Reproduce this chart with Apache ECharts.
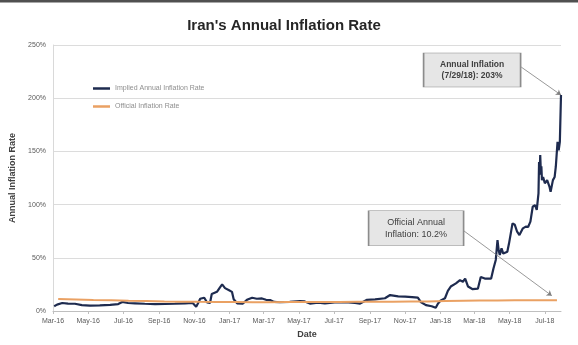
<!DOCTYPE html>
<html>
<head>
<meta charset="utf-8">
<title>Iran's Annual Inflation Rate</title>
<script src="https://cdn.jsdelivr.net/npm/echarts@6/dist/echarts.min.js"></script>
<style>
  html, body { margin: 0; padding: 0; background: #ffffff; }
  #chart { width: 578px; height: 345px; }
</style>
</head>
<body>
<div id="chart"></div>
<script>
// Implied annual inflation rate (market-based estimate), %
const impliedDates = [
  '2016-03-03','2016-03-08','2016-03-17','2016-03-27','2016-04-08','2016-04-20','2016-05-04','2016-05-21',
  '2016-06-08','2016-06-22','2016-06-29','2016-07-09','2016-07-21','2016-08-07','2016-08-25','2016-09-11',
  '2016-09-28','2016-10-16','2016-10-29','2016-11-04','2016-11-07','2016-11-11','2016-11-18','2016-11-23',
  '2016-11-28','2016-12-01','2016-12-10','2016-12-15','2016-12-19','2016-12-24','2016-12-31','2017-01-05',
  '2017-01-08','2017-01-14','2017-01-24','2017-01-31','2017-02-09','2017-02-17','2017-02-26','2017-03-05',
  '2017-03-12','2017-03-19','2017-03-29','2017-04-15','2017-05-03','2017-05-11','2017-05-20','2017-06-03',
  '2017-06-15','2017-07-02','2017-07-20','2017-08-06','2017-08-15','2017-08-27','2017-09-10','2017-09-27',
  '2017-10-06','2017-10-20','2017-11-01','2017-11-13','2017-11-23','2017-11-28','2017-12-07','2017-12-17',
  '2017-12-24','2017-12-28','2018-01-02','2018-01-09','2018-01-14','2018-01-19','2018-01-28','2018-02-04',
  '2018-02-09','2018-02-13','2018-02-18','2018-02-26','2018-03-07','2018-03-12','2018-03-19','2018-03-30',
  '2018-04-03','2018-04-07','2018-04-10','2018-04-12','2018-04-14','2018-04-17','2018-04-20','2018-04-27',
  '2018-04-30','2018-05-03','2018-05-06','2018-05-10','2018-05-14','2018-05-18','2018-05-24','2018-05-29',
  '2018-06-02','2018-06-06','2018-06-10','2018-06-14','2018-06-17','2018-06-20','2018-06-21','2018-06-22',
  '2018-06-23','2018-06-24','2018-06-25','2018-06-26','2018-06-28','2018-07-01','2018-07-05','2018-07-09',
  '2018-07-11','2018-07-15','2018-07-18','2018-07-20','2018-07-23','2018-07-25','2018-07-27','2018-07-29'
];
const impliedValues = [
  4.5, 6, 7.5, 7, 6.8, 5.5, 5, 5.3,
  5.8, 6.5, 8.5, 7.5, 7.2, 6.8, 6.5, 6.6,
  6.8, 7.2, 7.5, 4, 7, 11.5, 12.5, 8,
  7.5, 16, 18, 22, 25, 21.5, 19.5, 18,
  11, 7.2, 7, 10.5, 12.5, 11.5, 11.8, 10.5,
  10.3, 8.5, 8.2, 8.5, 9.3, 9, 7, 7.8,
  7.2, 8, 8.3, 7.5, 7, 10.5, 11, 12,
  15, 13.8, 13.5, 13, 12.5, 8.5, 5.5, 4.5,
  3, 7, 10, 12, 19, 23, 26, 29,
  27.5, 30.5, 23, 20.5, 21, 32, 30.5, 30.5,
  40, 48, 66.7, 57, 52.6, 59, 54, 55.7,
  63.6, 73, 82.3, 81, 74.5, 71.4, 77.7, 79.3,
  79, 84, 98, 99.6, 95, 110.6, 140, 128,
  146.6, 132, 136, 123, 126, 120, 123, 117,
  112, 123, 126, 135.6, 159, 151, 159, 203
];

// Official (statistical centre) inflation rate, %
const officialDates = [
  '2016-03-10','2016-04-10','2016-05-10','2016-06-10','2016-07-10','2016-08-10','2016-09-10','2016-10-10',
  '2016-11-10','2016-12-10','2017-01-10','2017-02-10','2017-03-10','2017-04-10','2017-05-10','2017-06-10',
  '2017-07-10','2017-08-10','2017-09-10','2017-10-10','2017-11-10','2017-12-10','2018-01-10','2018-02-10',
  '2018-03-10','2018-04-10','2018-05-10','2018-06-10','2018-07-22'
];
const officialValues = [
  11.3, 10.9, 10.4, 10.0, 9.6, 9.3, 9.0, 8.8,
  8.6, 8.5, 8.4, 8.3, 8.3, 8.4, 8.5, 8.5,
  8.5, 8.6, 8.7, 8.8, 8.9, 9.0, 9.3, 9.6,
  9.8, 9.9, 10.0, 10.1, 10.2
];

// Axis labels
const xTickLabels = ['Mar-16','May-16','Jul-16','Sep-16','Nov-16','Jan-17','Mar-17','May-17',
  'Jul-17','Sep-17','Nov-17','Jan-18','Mar-18','May-18','Jul-18'];
const yTicks = [0, 50, 100, 150, 200, 250];

const MONTHS = ['Jan','Feb','Mar','Apr','May','Jun','Jul','Aug','Sep','Oct','Nov','Dec'];
function ts(s) {
  const p = s.split('-');
  return new Date(Number(p[0]), Number(p[1]) - 1, Number(p[2])).getTime();
}
const tickTimes = xTickLabels.map(function (s) {
  const parts = s.split('-');
  return new Date(2000 + Number(parts[1]), MONTHS.indexOf(parts[0]), 1).getTime();
});
function fmtMonth(v) {
  const d = new Date(v);
  return MONTHS[d.getMonth()] + '-' + String(d.getFullYear()).slice(2);
}

const implied = impliedDates.map(function (d, i) { return [ts(d), impliedValues[i]]; });
const official = officialDates.map(function (d, i) { return [ts(d), officialValues[i]]; });

const lastImpliedDate = impliedDates[impliedDates.length - 1];
const lastImplied = impliedValues[impliedValues.length - 1];
const lastOfficial = officialValues[officialValues.length - 1];
const shortDate = (function (s) {
  const p = s.split('-');
  return Number(p[1]) + '/' + Number(p[2]) + '/' + p[0].slice(2);
})(lastImpliedDate);

const FONT = '"Liberation Sans", Arial, sans-serif';
const NAVY = '#1e2b4f';
const ORANGE = '#eaa163';

const chart = echarts.init(document.getElementById('chart'), null, { renderer: 'canvas' });

chart.setOption({
  animation: false,
  backgroundColor: '#ffffff',
  textStyle: { fontFamily: FONT },
  graphic: [{
    type: 'rect',
    shape: { x: 0, y: 0, width: 578, height: 2.5 },
    style: { fill: '#505050' },
    silent: true
  }],
  title: {
    text: "Iran's Annual Inflation Rate",
    left: 284,
    top: 18,
    padding: 0,
    textAlign: 'center',
    textStyle: { fontFamily: FONT, fontSize: 15, fontWeight: 'bold', color: '#262626' }
  },
  legend: {
    orient: 'vertical',
    left: 93,
    top: 85,
    padding: 0,
    itemWidth: 17,
    itemHeight: 2.5,
    itemGap: 11,
    icon: 'rect',
    data: ['Implied Annual Inflation Rate', 'Official Inflation Rate'],
    textStyle: { fontFamily: FONT, fontSize: 7, color: '#8f8f8f' }
  },
  grid: {
    left: 53,
    right: 17,
    top: 45,
    bottom: 34,
    containLabel: false,
    outerBoundsMode: 'none'
  },
  xAxis: {
    type: 'value',
    min: ts('2016-03-01'),
    max: ts('2018-07-29'),
    name: 'Date',
    nameLocation: 'middle',
    nameGap: 18,
    nameTextStyle: { fontFamily: FONT, fontSize: 9, fontWeight: 'bold', color: '#404040' },
    axisLine: { show: true, lineStyle: { color: '#bfbfbf', width: 1 } },
    axisTick: { show: true, length: 3, lineStyle: { color: '#bfbfbf' }, customValues: tickTimes },
    axisLabel: {
      customValues: tickTimes,
      formatter: fmtMonth,
      fontFamily: FONT,
      fontSize: 7,
      color: '#595959',
      margin: 7
    },
    splitLine: { show: false }
  },
  yAxis: {
    type: 'value',
    min: 0,
    max: 250,
    interval: 50,
    name: 'Annual Inflation Rate',
    nameLocation: 'middle',
    nameRotate: 90,
    nameGap: 36,
    nameTextStyle: { fontFamily: FONT, fontSize: 9, fontWeight: 'bold', color: '#404040' },
    axisLine: { show: true, lineStyle: { color: '#d9d9d9', width: 1 } },
    axisTick: { show: false },
    axisLabel: {
      formatter: function (v) { return yTicks.indexOf(v) >= 0 ? v + '%' : ''; },
      fontFamily: FONT,
      fontSize: 7,
      color: '#595959',
      margin: 7
    },
    splitLine: { show: true, lineStyle: { color: '#dcdcdc', width: 1 } }
  },
  series: [
    {
      name: 'Implied Annual Inflation Rate',
      type: 'line',
      data: implied,
      showSymbol: false,
      symbol: 'none',
      color: NAVY,
      lineStyle: { color: NAVY, width: 2.2 },
      z: 2,
      markLine: {
        silent: true,
        symbol: ['none', 'arrow'],
        symbolSize: 5,
        label: { show: false },
        lineStyle: { color: '#7f7f7f', width: 0.8, type: 'solid' },
        data: [[
          { coord: [ts('2018-05-21'), 229.3] },
          { coord: [ts(lastImpliedDate), lastImplied] }
        ]]
      },
      markPoint: {
        silent: true,
        data: [{
          coord: [ts('2018-02-25'), 226.5],
          symbol: 'rect',
          symbolSize: [97, 34],
          itemStyle: { color: '#e6e6e6', borderColor: '#8c8c8c', borderWidth: 1 },
          label: {
            show: true,
            position: 'inside',
            formatter: 'Annual Inflation\n(' + shortDate + '): ' + lastImplied + '%',
            fontFamily: FONT,
            fontSize: 8.5,
            fontWeight: 'bold',
            lineHeight: 11,
            color: '#404040',
            align: 'center'
          }
        }]
      }
    },
    {
      name: 'Official Inflation Rate',
      type: 'line',
      data: official,
      showSymbol: false,
      symbol: 'none',
      color: ORANGE,
      lineStyle: { color: ORANGE, width: 2 },
      z: 3,
      markLine: {
        silent: true,
        symbol: ['none', 'arrow'],
        symbolSize: 5,
        label: { show: false },
        lineStyle: { color: '#7f7f7f', width: 0.8, type: 'solid' },
        data: [[
          { coord: [ts('2018-02-11'), 75.2] },
          { coord: [ts('2018-07-13'), 14.4] }
        ]]
      },
      markPoint: {
        silent: true,
        data: [{
          coord: [ts('2017-11-20'), 77.8],
          symbol: 'rect',
          symbolSize: [95, 35],
          itemStyle: { color: '#e6e6e6', borderColor: '#8c8c8c', borderWidth: 1 },
          label: {
            show: true,
            position: 'inside',
            formatter: 'Official Annual\nInflation: ' + lastOfficial + '%',
            fontFamily: FONT,
            fontSize: 9,
            lineHeight: 12,
            color: '#404040',
            align: 'center'
          }
        }]
      }
    }
  ]
});
</script>
</body>
</html>
